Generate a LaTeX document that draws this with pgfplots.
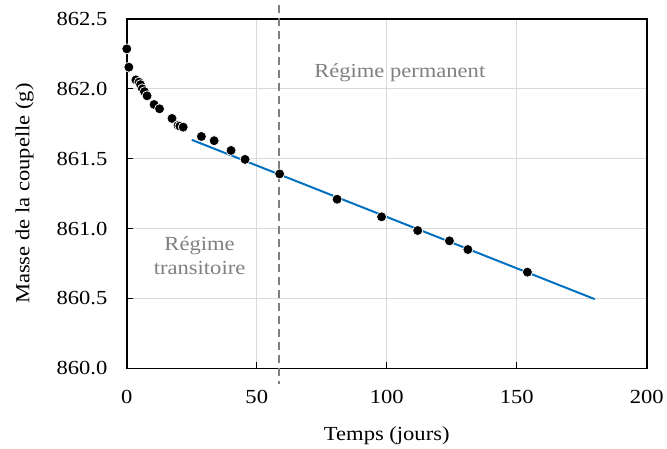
\documentclass[border=0pt]{standalone}
\usepackage{pgfplots}
\pgfplotsset{compat=1.18}
\usepackage{fontspec}
\setmainfont{Liberation Serif}[FakeStretch=1.13]
\definecolor{fitblue}{HTML}{0070C0}
\definecolor{gridgray}{HTML}{D9D9D9}
\definecolor{txtgray}{HTML}{808080}
\definecolor{dashgray}{HTML}{7F7F7F}
\begin{document}
\begin{tikzpicture}
\begin{axis}[
  scale only axis,
  width=521bp, height=350bp,
  xmin=0, xmax=200, ymin=860, ymax=862.5,
  xtick={0,50,100,150,200},
  ytick={860,860.5,861,861.5,862,862.5},
  yticklabel style={/pgf/number format/fixed,/pgf/number format/precision=1,/pgf/number format/fixed zerofill},
  /pgf/number format/assume math mode=true,
  tick label style={font=\fontsize{20bp}{23bp}\selectfont},
  label style={font=\fontsize{20bp}{23bp}\selectfont},
  xtick pos=bottom, ytick pos=left,
  tick align=inside,
  major tick length=6bp,
  tick style={black, line width=1pt},
  xticklabel style={yshift=-18bp},
  yticklabel style={xshift=-16bp},
  grid=major,
  major grid style={gridgray, line width=1pt},
  axis line style={black, line width=1.5pt},
  xlabel={Temps (jours)},
  ylabel={Masse de la coupelle (g)},
  xlabel style={yshift=-17bp},
  ylabel style={yshift=16bp},
  clip=false,
]
\path (rel axis cs:-0.2438,-0.2286) rectangle (rel axis cs:1.0365,1.0543);
\addplot[dashgray, line width=1.8pt, dash pattern=on 8bp off 5bp] coordinates {(58.7,862.6) (58.7,859.886)};
\addplot[fitblue, line width=2pt] coordinates {(25,861.635) (180,860.495)};
\addplot[only marks, mark=*, mark size=5bp, mark options={fill=black, draw=white, line width=0.7pt}] coordinates {
(0,862.286) (0.8,862.155) (3.5,862.064) (4.7,862.048) (5.3,862.03) (6.0,862.0) (6.8,861.98) (7.8,861.95)
(10.5,861.888) (12.6,861.857) (17.4,861.788) (19.7,861.738) (20.4,861.733) (21.7,861.726)
(28.7,861.659) (33.6,861.629) (40.1,861.559) (45.5,861.495) (58.8,861.391)
(80.9,861.21) (98.0,861.084) (111.9,860.986) (124.1,860.912) (131.2,860.85) (154.1,860.688)
};
\node[txtgray, font=\fontsize{20bp}{23bp}\selectfont] at (axis cs:105,862.114) {Régime permanent};
\node[txtgray, font=\fontsize{20bp}{24bp}\selectfont, align=center] at (axis cs:28,860.804) {Régime\\transitoire};
\end{axis}
\end{tikzpicture}
\end{document}
